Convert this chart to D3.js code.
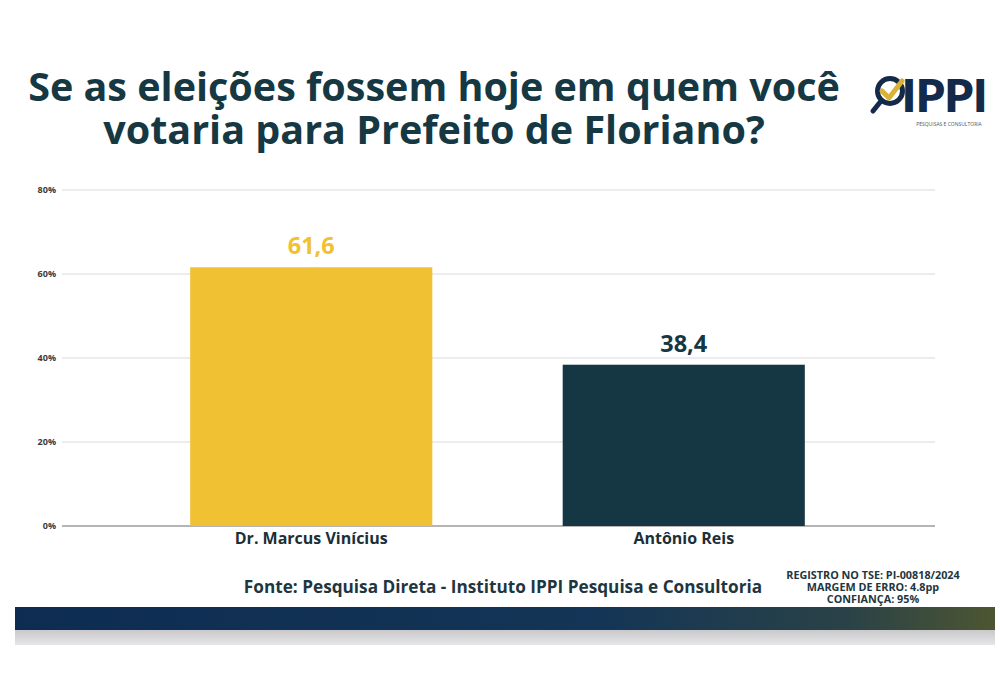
<!DOCTYPE html>
<html>
<head>
<meta charset="utf-8">
<script src="https://cdn.jsdelivr.net/npm/d3@7"></script>
<style>
  body { margin: 0; background: #fff; }
  svg { display: block; font-family: "Open Sans", sans-serif; }
</style>
</head>
<body>
<script>
// Data
const candidates = ["Dr. Marcus Vinícius", "Antônio Reis"];
const votes = [61.6, 38.4];
const voteLabels = ["61,6", "38,4"];
const barColors = ["#f0c132", "#143743"];
const labelColors = ["#f0c132", "#143743"];
const yTicks = [0, 20, 40, 60, 80];
const titleLines = ["Se as eleições fossem hoje em quem você", "votaria para Prefeito de Floriano?"];
const sourceText = "Fonte: Pesquisa Direta - Instituto IPPI Pesquisa e Consultoria";
const regLines = ["REGISTRO NO TSE: PI-00818/2024", "MARGEM DE ERRO: 4.8pp", "CONFIANÇA: 95%"];

const W = 1000, H = 695;
const svg = d3.select("body").append("svg")
  .attr("width", W)
  .attr("height", H);

// Title
svg.append("g").selectAll("text")
  .data(titleLines).enter()
  .append("text")
  .attr("x", 434)
  .attr("y", (d, i) => 101 + i * 43)
  .attr("text-anchor", "middle")
  .attr("font-size", 39.5)
  .attr("font-weight", 700)
  .attr("fill", "#163843")
  .text(d => d);

// Logo
const logo = svg.append("g").attr("transform", "translate(866,76)");
logo.append("circle").attr("cx", 24).attr("cy", 15).attr("r", 12.5)
  .attr("fill", "none").attr("stroke", "#142a4a").attr("stroke-width", 5);
logo.append("line").attr("x1", 15).attr("y1", 25).attr("x2", 7).attr("y2", 35)
  .attr("stroke", "#142a4a").attr("stroke-width", 5).attr("stroke-linecap", "round");
logo.append("path").attr("d", "M16,15 L23,22 L36,5")
  .attr("fill", "none").attr("stroke", "#d9b23a").attr("stroke-width", 5)
  .attr("stroke-linecap", "round").attr("stroke-linejoin", "round");
logo.append("text").attr("x", 36).attr("y", 36)
  .attr("font-size", 45).attr("font-weight", 800).attr("fill", "#142a4a")
  .attr("font-family", "Lato, sans-serif")
  .text("IPPI");
logo.append("text").attr("x", 83).attr("y", 50)
  .attr("text-anchor", "middle")
  .attr("font-size", 5).attr("fill", "#555")
  .text("PESQUISAS E CONSULTORIA");

// Scales
const y = d3.scaleLinear().domain([0, 80]).range([526, 190]);
const x = d3.scaleBand().domain(candidates).range([125, 870]).paddingInner(0.35).paddingOuter(0.175);

// Gridlines
const gridLeft = 62, gridRight = 935;
svg.append("g").selectAll("line")
  .data(yTicks).enter()
  .append("line")
  .attr("x1", gridLeft).attr("x2", gridRight)
  .attr("y1", d => y(d)).attr("y2", d => y(d))
  .attr("stroke", d => d === 0 ? "#b5b5b5" : "#e6e6e6")
  .attr("stroke-width", d => d === 0 ? 2 : 1.3);

// Y axis labels
svg.append("g")
  .attr("transform", "translate(56,0)")
  .call(d3.axisLeft(y).tickValues(yTicks).tickSize(0).tickPadding(0).tickFormat(d => d + "%"))
  .call(g => g.select(".domain").remove())
  .selectAll("text")
  .attr("font-size", 9)
  .attr("font-weight", 700)
  .attr("fill", "#3a3a3a")
  .attr("font-family", "Open Sans, sans-serif");

// Bars
svg.append("g").selectAll("rect")
  .data(candidates).enter()
  .append("rect")
  .attr("x", d => x(d))
  .attr("width", x.bandwidth())
  .attr("y", (d, i) => y(votes[i]))
  .attr("height", (d, i) => y(0) - y(votes[i]))
  .attr("fill", (d, i) => barColors[i]);

// Value labels
svg.append("g").selectAll("text")
  .data(candidates).enter()
  .append("text")
  .attr("x", d => x(d) + x.bandwidth() / 2)
  .attr("y", (d, i) => y(votes[i]) - 13)
  .attr("text-anchor", "middle")
  .attr("font-size", 23.5)
  .attr("font-weight", 700)
  .attr("fill", (d, i) => labelColors[i])
  .text((d, i) => voteLabels[i]);

// Category labels
svg.append("g").selectAll("text")
  .data(candidates).enter()
  .append("text")
  .attr("x", d => x(d) + x.bandwidth() / 2)
  .attr("y", 544)
  .attr("text-anchor", "middle")
  .attr("font-size", 16)
  .attr("font-weight", 700)
  .attr("fill", "#1b2f36")
  .text(d => d);

// Source
svg.append("text")
  .attr("x", 503).attr("y", 593)
  .attr("text-anchor", "middle")
  .attr("font-size", 17.2)
  .attr("font-weight", 700)
  .attr("fill", "#1e3640")
  .text(sourceText);

// Registration block
svg.append("g").selectAll("text")
  .data(regLines).enter()
  .append("text")
  .attr("x", 873)
  .attr("y", (d, i) => 579 + i * 12)
  .attr("text-anchor", "middle")
  .attr("font-size", 10.8)
  .attr("font-weight", 700)
  .attr("fill", "#1e3640")
  .text(d => d);

// Bottom bands
const defs = svg.append("defs");
const grad = defs.append("linearGradient").attr("id", "band");
grad.append("stop").attr("offset", "0%").attr("stop-color", "#0e2c52");
grad.append("stop").attr("offset", "60%").attr("stop-color", "#143556");
grad.append("stop").attr("offset", "85%").attr("stop-color", "#2a4247");
grad.append("stop").attr("offset", "100%").attr("stop-color", "#4d5632");
svg.append("rect").attr("x", 15).attr("y", 607).attr("width", 980).attr("height", 23)
  .attr("fill", "url(#band)");
const grad2 = defs.append("linearGradient").attr("id", "band2").attr("x1", 0).attr("x2", 0).attr("y1", 0).attr("y2", 1);
grad2.append("stop").attr("offset", "0%").attr("stop-color", "#c9c9cc");
grad2.append("stop").attr("offset", "100%").attr("stop-color", "#e6e6e8");
svg.append("rect").attr("x", 15).attr("y", 630).attr("width", 980).attr("height", 15)
  .attr("fill", "url(#band2)");
</script>
</body>
</html>
